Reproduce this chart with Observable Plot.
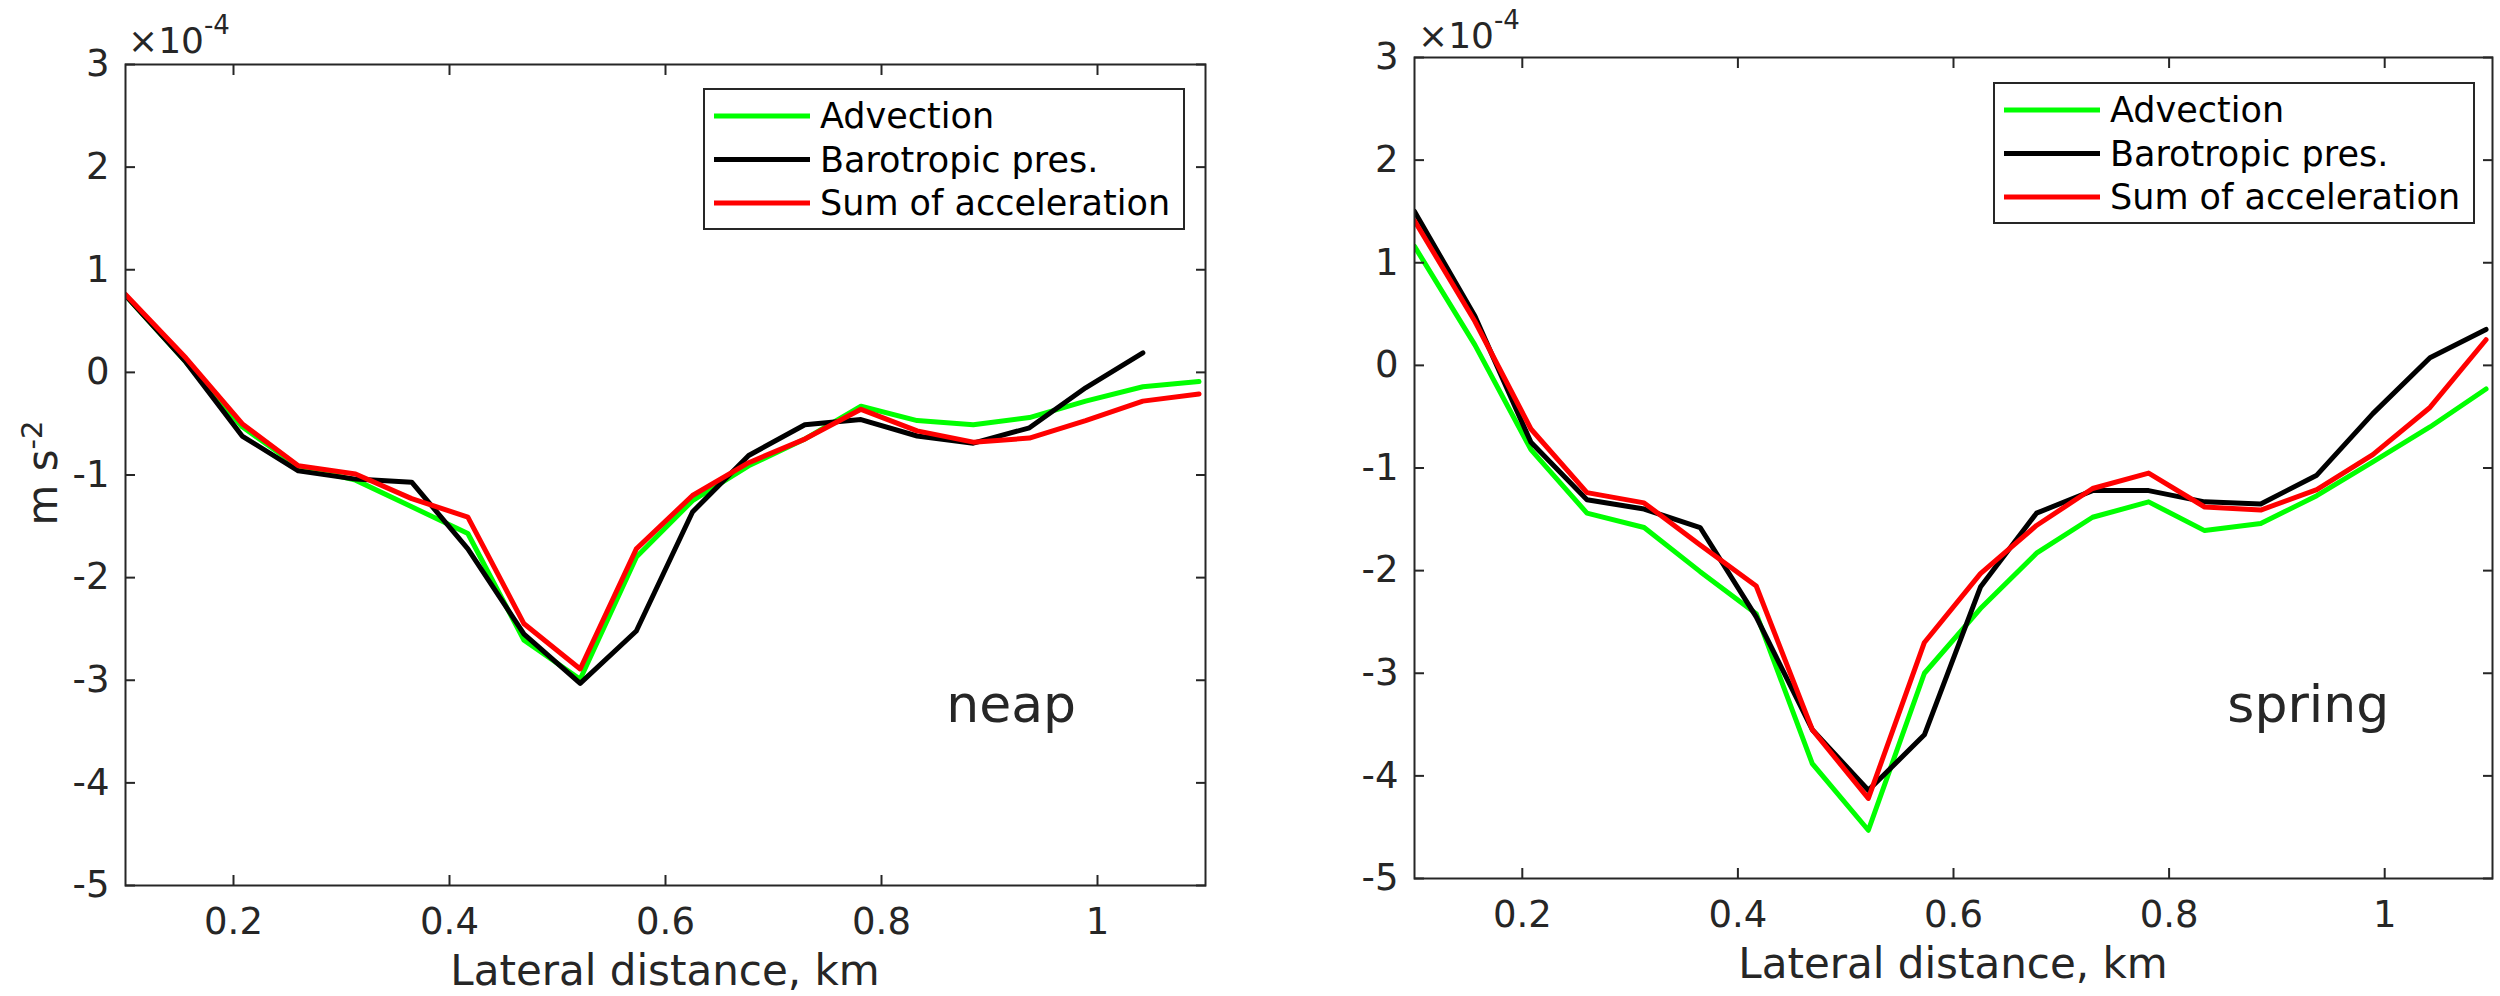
<!DOCTYPE html>
<html>
<head>
<meta charset="utf-8">
<script src="https://cdn.jsdelivr.net/npm/d3@7"></script>
<script src="https://cdn.jsdelivr.net/npm/@observablehq/plot@0.6"></script>
<style>
  body { margin: 0; background: #fff; }
  #charts { display: flex; width: 2500px; height: 996px; }
  #charts svg { display: block; }
</style>
</head>
<body>
<div id="charts"></div>
<script>
//Lateral distance of the stations, km
const distanceKm = [
  0.1, 0.156, 0.208, 0.26, 0.313, 0.365, 0.417, 0.469, 0.521, 0.573,
  0.625, 0.677, 0.729, 0.781, 0.833, 0.885, 0.937, 0.989, 1.042, 1.094,
];

//Accelerations, x 10^-4 m s^-2 (neap)
const advectionNeap = [
  0.75, 0.1, -0.53, -0.92, -1.05, -1.31, -1.57, -2.61, -2.99, -1.8,
  -1.25, -0.91, -0.65, -0.33, -0.47, -0.51, -0.44, -0.28, -0.14, -0.09,
];
const barotropicNeap = [
  0.75, 0.1, -0.62, -0.96, -1.04, -1.07, -1.72, -2.55, -3.03, -2.52,
  -1.36, -0.81, -0.51, -0.46, -0.62, -0.69, -0.54, -0.15, 0.19,
];
const sumNeap = [
  0.76, 0.14, -0.5, -0.91, -0.99, -1.23, -1.41, -2.45, -2.89, -1.72,
  -1.2, -0.88, -0.65, -0.36, -0.57, -0.68, -0.64, -0.47, -0.28, -0.21,
];

//Accelerations, x 10^-4 m s^-2 (spring)
const advectionSpring = [
  1.16, 0.2, -0.82, -1.44, -1.58, -2.01, -2.42, -3.88, -4.53, -3.0,
  -2.37, -1.83, -1.48, -1.33, -1.61, -1.54, -1.27, -0.94, -0.6, -0.23,
];
const barotropicSpring = [
  1.5, 0.48, -0.75, -1.31, -1.4, -1.58, -2.45, -3.55, -4.14, -3.6,
  -2.16, -1.44, -1.22, -1.22, -1.33, -1.35, -1.07, -0.47, 0.075, 0.35,
];
const sumSpring = [
  1.41, 0.43, -0.62, -1.24, -1.34, -1.75, -2.15, -3.55, -4.22, -2.7,
  -2.03, -1.56, -1.2, -1.05, -1.38, -1.41, -1.21, -0.87, -0.41, 0.25,
];

const seriesNames = ["Advection", "Barotropic pres.", "Sum of acceleration"];
const seriesColors = ["#00ff00", "#000000", "#ff0000"];

const xTicks = [0.2, 0.4, 0.6, 0.8, 1];
const yTicks = [-5, -4, -3, -2, -1, 0, 1, 2, 3];
const xLabel = "Lateral distance, km";
const yLabel = "m s";
const yLabelExp = "-2";
const multiplier = "×10";
const multiplierExp = "-4";

const ink = "#262626";
const font = "DejaVu Sans";

//Turn one series into rows for Plot
const toRows = (values) => values.map((v, i) => ({ x: distanceKm[i], v }));

const makePanel = (panel) => {
  const { series, tag, tagAt, m, legendAt, multAt, showYLabel } = panel;
  const W = 1250,
    H = 996;

  const lineMarks = series.map((values, i) =>
    Plot.line(toRows(values), {
      x: "x",
      y: "v",
      stroke: seriesColors[i],
      strokeWidth: 5,
      clip: true,
    })
  );

  const svg = Plot.plot({
    width: W,
    height: H,
    marginLeft: m.left,
    marginRight: m.right,
    marginTop: m.top,
    marginBottom: m.bottom,
    style: { fontFamily: font, fontSize: "37px", color: ink, background: "#fff" },
    x: { domain: [0.1, 1.1] },
    y: { domain: [-5, 3] },
    marks: [
      ...lineMarks,
      Plot.text([tag], {
        x: tagAt[0],
        y: tagAt[1],
        text: (d) => d,
        textAnchor: "start",
        fontSize: 52,
        fill: ink,
      }),
      //tick labels
      Plot.axisX({ anchor: "bottom", ticks: xTicks, tickFormat: (d) => `${d}`, tickSize: 0, tickPadding: 22, label: null }),
      Plot.axisY({ anchor: "left", ticks: yTicks, tickFormat: (d) => `${d}`, tickSize: 0, tickPadding: 16, label: null }),
      //inward ticks on all four sides
      Plot.axisX({ anchor: "bottom", ticks: xTicks, tickSize: -10, strokeWidth: 2, fill: "none", label: null }),
      Plot.axisX({ anchor: "top", ticks: xTicks, tickSize: -10, strokeWidth: 2, fill: "none", label: null }),
      Plot.axisY({ anchor: "left", ticks: yTicks, tickSize: -10, strokeWidth: 2, fill: "none", label: null }),
      Plot.axisY({ anchor: "right", ticks: yTicks, tickSize: -10, strokeWidth: 2, fill: "none", label: null }),
      Plot.frame({ stroke: ink, strokeWidth: 2 }),
    ],
  });

  const root = d3.select(svg);
  const cx = (m.left + W - m.right) / 2;

  //x label
  root.append("text")
    .attr("x", cx)
    .attr("y", H - m.bottom + 100)
    .attr("text-anchor", "middle")
    .attr("font-size", 42)
    .attr("fill", ink)
    .text(xLabel);

  //y label, rotated
  if (showYLabel) {
    const t = root.append("text")
      .attr("transform", "translate(57,473) rotate(-90)")
      .attr("text-anchor", "middle")
      .attr("font-size", 42)
      .attr("fill", ink)
      .text(yLabel);
    t.append("tspan").attr("dy", -15).attr("font-size", 29).text(yLabelExp);
  }

  //x10^-4 multiplier above the frame
  const mult = root.append("text")
    .attr("x", multAt[0])
    .attr("y", multAt[1])
    .attr("text-anchor", "start")
    .attr("font-size", 36)
    .attr("fill", ink)
    .text(multiplier);
  mult.append("tspan").attr("dy", -19).attr("font-size", 26).text(multiplierExp);

  //legend box
  const g = root.append("g").attr("transform", `translate(${legendAt[0]},${legendAt[1]})`);
  g.append("rect")
    .attr("width", 480)
    .attr("height", 140)
    .attr("fill", "#fff")
    .attr("stroke", ink)
    .attr("stroke-width", 2);
  seriesNames.forEach((name, i) => {
    const cy = 27 + i * 43.5;
    g.append("line")
      .attr("x1", 10).attr("x2", 106)
      .attr("y1", cy).attr("y2", cy)
      .attr("stroke", seriesColors[i])
      .attr("stroke-width", 5);
    g.append("text")
      .attr("x", 116)
      .attr("y", cy)
      .attr("dy", "0.35em")
      .attr("text-anchor", "start")
      .attr("font-size", 35)
      .attr("fill", "#000")
      .text(name);
  });

  return svg;
};

const chartsDiv = document.getElementById("charts");

chartsDiv.appendChild(
  makePanel({
    series: [advectionNeap, barotropicNeap, sumNeap],
    tag: "neap",
    tagAt: [0.86, -3.24],
    m: { left: 125, right: 45, top: 64, bottom: 111 },
    legendAt: [704, 89],
    multAt: [128, 53],
    showYLabel: true,
  })
);
chartsDiv.appendChild(
  makePanel({
    series: [advectionSpring, barotropicSpring, sumSpring],
    tag: "spring",
    tagAt: [0.854, -3.31],
    m: { left: 164, right: 8, top: 57, bottom: 118 },
    legendAt: [744, 83],
    multAt: [168, 48],
    showYLabel: false,
  })
);
</script>
</body>
</html>
